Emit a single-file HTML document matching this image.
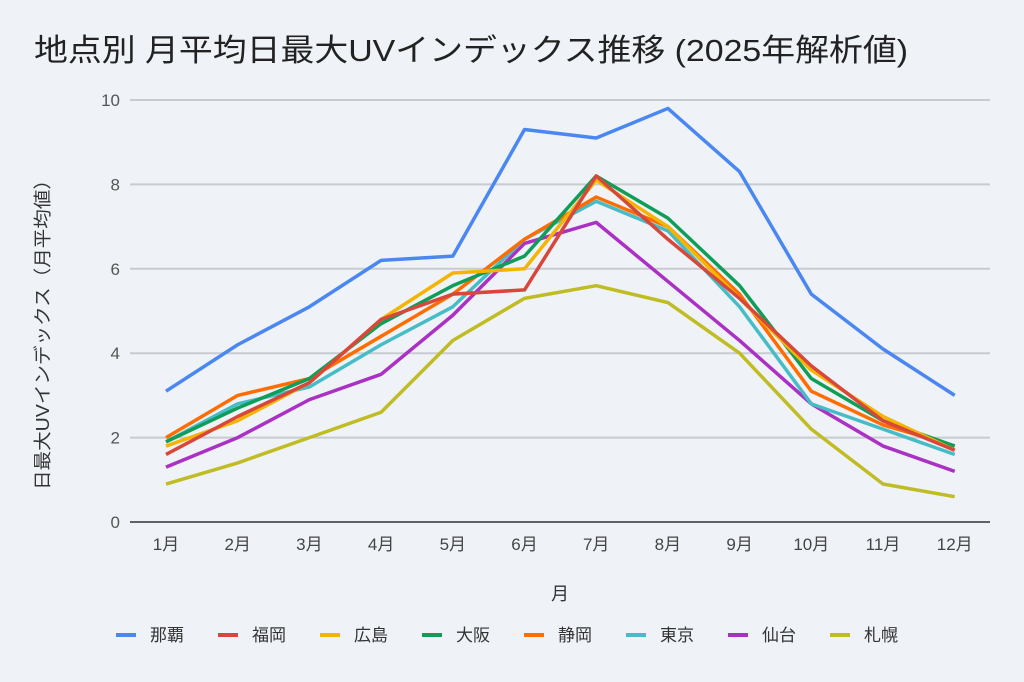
<!DOCTYPE html>
<html><head><meta charset="utf-8"><style>
body{margin:0;background:#eff3f8;}
svg{display:block;font-family:"Liberation Sans","Noto Sans CJK JP",sans-serif;}
</style></head><body>
<svg id="c" width="1024" height="682" viewBox="0 0 1024 682">
<rect width="1024" height="682" fill="#eff3f8"/>
<text x="34" y="61" font-size="31" fill="#222" textLength="874" lengthAdjust="spacingAndGlyphs">地点別 月平均日最大UVインデックス推移 (2025年解析値)</text>
<g id="grid"></g>
<g id="lines" fill="none" stroke-width="3.5" stroke-linejoin="round"></g>
<text x="560" y="600" font-size="18" fill="#333" text-anchor="middle">月</text>
<text transform="translate(49,330) rotate(-90)" font-size="18" fill="#333" text-anchor="middle" textLength="320" lengthAdjust="spacingAndGlyphs">日最大UVインデックス（月平均値）</text>
<g id="leg" font-size="17" fill="#333"></g>
</svg>
<script>
var ns="http://www.w3.org/2000/svg";
function el(t,a,p,txt){var e=document.createElementNS(ns,t);for(var k in a)e.setAttribute(k,a[k]);if(txt!=null)e.textContent=txt;document.getElementById(p).appendChild(e);return e;}
function Y(v){return 522-v*42.2;}
function X(i){return 166+i*71.7;}
for(var v=0;v<=10;v+=2){
 el("line",{x1:130,x2:990,y1:Y(v),y2:Y(v),stroke:v==0?"#333":"#c8cbd0","stroke-width":v==0?1.5:2},"grid");
 el("text",{x:120,y:Y(v)+6,"font-size":17,fill:"#555","text-anchor":"end"},"grid",v);
}
for(var i=0;i<12;i++)el("text",{x:X(i),y:550,"font-size":17,fill:"#444","text-anchor":"middle"},"grid",(i+1)+"月");
var S=[
["那覇","#4a87f2",[3.1,4.2,5.1,6.2,6.3,9.3,9.1,9.8,8.3,5.4,4.1,3.0]],
["福岡","#d8473b",[1.6,2.5,3.3,4.8,5.4,5.5,8.2,6.7,5.3,3.7,2.4,1.7]],
["広島","#f4b400",[1.8,2.4,3.3,4.8,5.9,6.0,8.1,7.0,5.3,3.6,2.5,1.7]],
["大阪","#0f9d58",[1.9,2.7,3.4,4.7,5.6,6.3,8.2,7.2,5.6,3.4,2.4,1.8]],
["静岡","#ff6d00",[2.0,3.0,3.4,4.4,5.4,6.7,7.7,7.0,5.4,3.1,2.3,1.8]],
["東京","#46bdc6",[1.9,2.8,3.2,4.2,5.1,6.7,7.6,6.9,5.1,2.8,2.2,1.6]],
["仙台","#ab30c4",[1.3,2.0,2.9,3.5,4.9,6.6,7.1,5.7,4.3,2.8,1.8,1.2]],
["札幌","#c0bc23",[0.9,1.4,2.0,2.6,4.3,5.3,5.6,5.2,4.0,2.2,0.9,0.6]]];
var lx=[116,218,320,422,524,626,728,830];
for(var s=S.length-1;s>=0;s--){
 var p=S[s][2].map(function(v,i){return X(i)+","+Y(v)}).join(" ");
 el("polyline",{points:p,stroke:S[s][1]},"lines");
}
S.forEach(function(s,k){
 el("line",{x1:lx[k],x2:lx[k]+20,y1:635,y2:635,stroke:s[1],"stroke-width":4},"leg");
 el("text",{x:lx[k]+34,y:641},"leg",s[0]);
});
</script>
</body></html>
